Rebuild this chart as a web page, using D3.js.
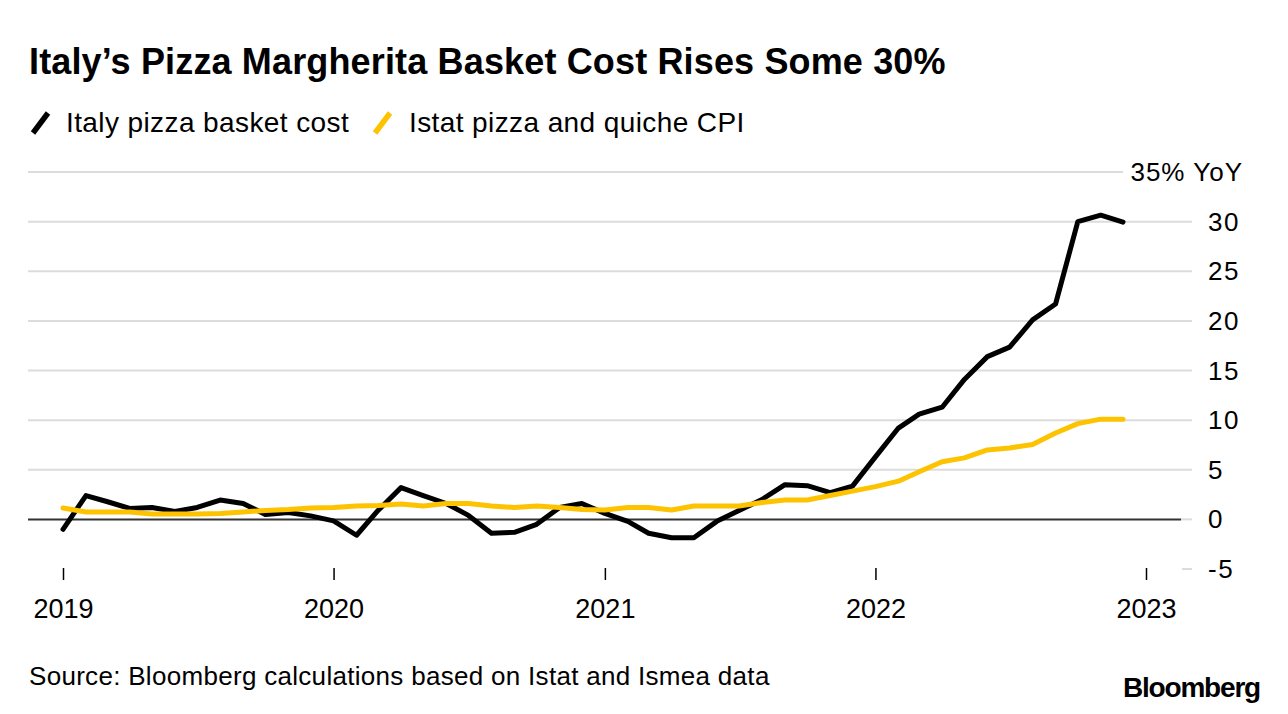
<!DOCTYPE html>
<html>
<head>
<meta charset="utf-8">
<script src="https://cdn.jsdelivr.net/npm/d3@7"></script>
<style>
  html, body { margin: 0; padding: 0; background: #fff; }
  svg { display: block; font-family: "Liberation Sans", Arial, Helvetica, sans-serif; }
</style>
</head>
<body>
<svg id="chart" width="1288" height="714"></svg>
<script>
// ---- Data ----
const months = [];
for (let y = 2019; y <= 2022; y++) for (let m = 1; m <= 12; m++) months.push(`${y}-${String(m).padStart(2, "0")}`);

const basketCost = [
  -1.0, 2.4, 1.8, 1.1, 1.2, 0.8, 1.2, 1.95, 1.6, 0.5, 0.7, 0.35,
  -0.15, -1.6, 0.9, 3.2, 2.4, 1.6, 0.4, -1.4, -1.3, -0.5, 1.2, 1.6,
  0.6, -0.2, -1.4, -1.85, -1.85, -0.2, 0.9, 2.0, 3.5, 3.4, 2.7, 3.35,
  6.3, 9.2, 10.6, 11.3, 14.1, 16.4, 17.35, 20.1, 21.7, 30.0, 30.65, 29.95
];
const istatCPI = [
  1.15, 0.75, 0.75, 0.75, 0.55, 0.55, 0.55, 0.6, 0.75, 0.9, 1.0, 1.15,
  1.2, 1.35, 1.4, 1.55, 1.35, 1.6, 1.6, 1.35, 1.2, 1.35, 1.2, 1.0,
  0.95, 1.2, 1.2, 0.95, 1.35, 1.35, 1.35, 1.7, 1.95, 1.95, 2.4, 2.85,
  3.3, 3.85, 4.8, 5.8, 6.2, 7.0, 7.2, 7.55, 8.7, 9.65, 10.1, 10.1
];
const yTicks = [-5, 0, 5, 10, 15, 20, 25, 30, 35];
const xTickYears = ["2019", "2020", "2021", "2022", "2023"];
const seriesNames = ["Italy pizza basket cost", "Istat pizza and quiche CPI"];
const seriesColors = ["#000000", "#fdc300"];

const title = "Italy\u2019s Pizza Margherita Basket Cost Rises Some 30%";
const source = "Source: Bloomberg calculations based on Istat and Ismea data";

// ---- Setup ----
const svg = d3.select("#chart");
const parse = d3.timeParse("%Y-%m");
const dates = months.map(parse);

const x = d3.scaleTime()
  .domain([new Date(2019, 0, 1), new Date(2023, 0, 1)])
  .range([63, 1146]);
const y = d3.scaleLinear().domain([-5, 35]).range([569, 172]);

const gridLeft = 28, gridRight = 1192;

// Title
svg.append("text")
  .attr("x", 29).attr("y", 74)
  .attr("font-size", 36).attr("font-weight", 700)
  .attr("letter-spacing", 0.15)
  .attr("fill", "#000")
  .text(title);

// Legend
const legend = svg.append("g");
const legendItems = [
  { x: 30, tx: 66 },
  { x: 372, tx: 409 }
];
seriesNames.forEach((name, i) => {
  const it = legendItems[i];
  legend.append("line")
    .attr("x1", it.x + 3).attr("y1", 133)
    .attr("x2", it.x + 18).attr("y2", 113)
    .attr("stroke", seriesColors[i]).attr("stroke-width", 5.5)
    .attr("stroke-linecap", "butt");
  legend.append("text")
    .attr("x", it.tx).attr("y", 132)
    .attr("font-size", 28).attr("fill", "#000")
    .attr("letter-spacing", 0.4)
    .text(name);
});

// Gridlines
const grid = svg.append("g");
yTicks.forEach(t => {
  if (t === 0) return;
  let x1 = gridLeft, x2 = gridRight;
  if (t === 35) x2 = 1123;
  if (t === -5) x1 = 1182;
  grid.append("line")
    .attr("x1", x1).attr("x2", x2)
    .attr("y1", y(t)).attr("y2", y(t))
    .attr("stroke", "#dcdcdc").attr("stroke-width", 2);
});
// zero line
grid.append("line")
  .attr("x1", 1181).attr("x2", gridRight)
  .attr("y1", y(0)).attr("y2", y(0))
  .attr("stroke", "#dcdcdc").attr("stroke-width", 2);
grid.append("line")
  .attr("x1", gridLeft).attr("x2", 1181)
  .attr("y1", y(0)).attr("y2", y(0))
  .attr("stroke", "#333").attr("stroke-width", 2);

// Y labels
const yl = svg.append("g");
yTicks.forEach(t => {
  if (t === 35) {
    yl.append("text")
      .attr("x", 1243).attr("y", y(t) + 9)
      .attr("text-anchor", "end")
      .attr("font-size", 26).attr("fill", "#000")
      .attr("letter-spacing", 1)
      .text("35% YoY");
  } else {
    yl.append("text")
      .attr("x", 1208).attr("y", y(t) + 9)
      .attr("font-size", 26).attr("fill", "#000")
      .attr("letter-spacing", 1.5)
      .text(String(t));
  }
});

// X axis ticks and labels
const xAxis = d3.axisBottom(x)
  .tickValues(xTickYears.map(s => new Date(+s, 0, 1)))
  .tickFormat(d3.timeFormat("%Y"))
  .tickSize(12)
  .tickPadding(19);
const xg = svg.append("g").attr("transform", "translate(0,568)").call(xAxis);
xg.select(".domain").remove();
xg.selectAll(".tick line").attr("stroke", "#000").attr("stroke-width", 1.5);
xg.selectAll(".tick text")
  .attr("font-size", 27).attr("fill", "#000")
  .attr("font-family", "Liberation Sans, Arial, sans-serif");

// Lines
const line = d3.line()
  .x((d, i) => x(dates[i]))
  .y(d => y(d));

[basketCost, istatCPI].forEach((series, i) => {
  svg.append("path")
    .datum(series)
    .attr("d", line)
    .attr("fill", "none")
    .attr("stroke", seriesColors[i])
    .attr("stroke-width", 5)
    .attr("stroke-linejoin", "round")
    .attr("stroke-linecap", "round");
});

// Source
svg.append("text")
  .attr("x", 29).attr("y", 685)
  .attr("font-size", 26).attr("fill", "#000")
  .attr("letter-spacing", 0.3)
  .text(source);

// Bloomberg logo text
svg.append("text")
  .attr("x", 1260).attr("y", 697)
  .attr("text-anchor", "end")
  .attr("font-size", 28).attr("font-weight", 700)
  .attr("letter-spacing", -1.2)
  .attr("fill", "#000")
  .text("Bloomberg");
</script>
</body>
</html>
